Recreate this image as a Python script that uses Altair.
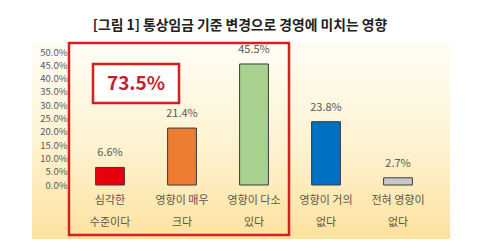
import altair as alt
import pandas as pd

categories = ["심각한|수준이다", "영향이 매우|크다", "영향이 다소|있다", "영향이 거의|없다", "전혀 영향이|없다"]
values = [0.066, 0.214, 0.455, 0.238, 0.027]
colors = ["#e8000b", "#ed7d31", "#a9d18e", "#0070c0", "#c9c9c9"]
y_ticks = [0.0, 0.05, 0.10, 0.15, 0.20, 0.25, 0.30, 0.35, 0.40, 0.45, 0.50]
title_text = "[그림 1] 통상임금 기준 변경으로 경영에 미치는 영향"
highlight_text = "73.5%"

FONT = "Noto Sans CJK KR"

df = pd.DataFrame({"cat": categories, "val": values, "col": colors})
one = pd.DataFrame({"k": [0]})

xaxis = alt.Axis(title=None, labelAngle=0, domain=False, ticks=False,
                 labelExpr="split(datum.value, '|')", labelLineHeight=22,
                 labelPadding=9, labelFont=FONT, labelFontSize=11,
                 labelColor="#5e544b", zindex=1)
yaxis = alt.Axis(title=None, format=".1%", values=y_ticks, tickCount=11,
                 domain=False, ticks=False, grid=False, labelPadding=7,
                 labelOverlap=False, labelFont=FONT, labelFontSize=9.5,
                 labelColor="#595959", zindex=1)
xscale = alt.Scale(paddingInner=0.6, paddingOuter=0.3)
yscale = alt.Scale(domain=[0, 0.5], nice=False)

def xenc():
    return alt.X("cat:N", sort=categories, scale=xscale, axis=xaxis)

def yenc():
    return alt.Y("val:Q", scale=yscale, axis=yaxis)

grad = alt.LinearGradient(gradient="linear", x1=0, x2=0, y1=0, y2=1,
                          stops=[alt.GradientStop(color="#fffdf6", offset=0),
                                 alt.GradientStop(color="#fdf2cf", offset=0.55),
                                 alt.GradientStop(color="#fde29e", offset=1)])

panel = alt.Chart(one).mark_rect(fill=grad).encode(
    x=alt.value(-42), x2=alt.value(376), y=alt.value(-10), y2=alt.value(187))

outer = alt.Chart(one).mark_rect(fill=None, stroke="#d42020", strokeWidth=2.5).encode(
    x=alt.value(-5), x2=alt.value(215), y=alt.value(-9), y2=alt.value(183))

bars = alt.Chart(df).mark_bar(stroke="#3a3a3a", strokeWidth=1).encode(
    x=xenc(), y=yenc(), fill=alt.Fill("col:N", scale=None))

labels = alt.Chart(df).mark_text(dy=-9, font=FONT, fontSize=11, color="#595959",
                                 baseline="bottom").encode(
    x=xenc(), y=yenc(), text=alt.Text("val:Q", format=".1%"))

box = alt.Chart(one).mark_rect(fill="white", stroke="#d42020", strokeWidth=2.5).encode(
    x=alt.value(19), x2=alt.value(105), y=alt.value(12), y2=alt.value(51))

boxtext = alt.Chart(one).mark_text(font=FONT, fontSize=19, fontWeight="bold",
                                   color="#c0222f").encode(
    x=alt.value(62), y=alt.value(32), text=alt.value(highlight_text))

title = alt.Chart(one).mark_text(font=FONT, fontSize=13.8, fontWeight="bold",
                                 color="#222222").encode(
    x=alt.value(166), y=alt.value(-26), text=alt.value(title_text))

chart = alt.layer(panel, outer, bars, labels, box, boxtext, title).properties(
    width=360, height=133,
    padding={"left": 74, "top": 52, "right": 45, "bottom": 66},
    autosize=alt.AutoSizeParams(type="none"),
    background="white",
).configure_view(stroke=None)

chart.save("out.html", embed_options={"renderer": "svg", "actions": False})
